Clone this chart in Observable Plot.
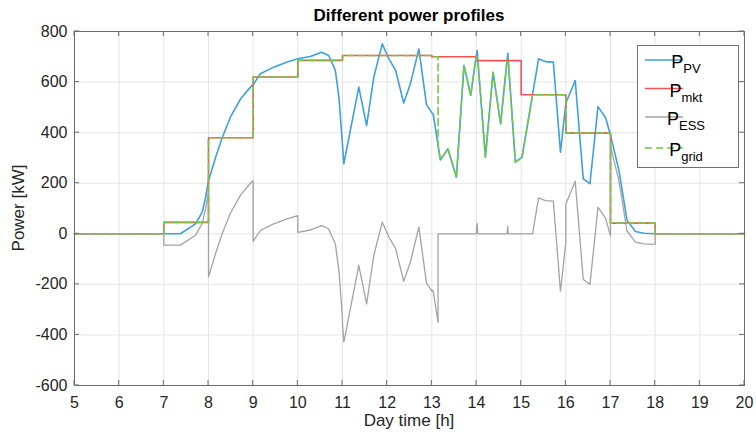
<!DOCTYPE html>
<html>
<head>
<meta charset="utf-8">
<script src="https://cdn.jsdelivr.net/npm/d3@7"></script>
<script src="https://cdn.jsdelivr.net/npm/@observablehq/plot@0.6"></script>
<style>
  html, body { margin: 0; padding: 0; background: #fff; }
</style>
</head>
<body>
<div id="chart"></div>
<script>
const xTicks = [5,6,7,8,9,10,11,12,13,14,15,16,17,18,19,20];
const yTicks = [-600,-400,-200,0,200,400,600,800];

const hours = [5,7,7,7.37,7.71,7.86,7.93,8,8,8.16,8.31,8.49,8.72,8.94,9,9,9.16,9.46,9.76,10,10,10.28,10.53,10.69,10.84,10.92,11,11,11.03,11.365,11.54,11.7,11.89,12.04,12.19,12.37,12.52,12.71,12.88,13,13,13.03,13.14,13.14,13.19,13.36,13.55,13.72,13.87,13.99,14,14,14.015,14.03,14.2,14.37,14.54,14.683,14.7,14.711,14.87,15,15,15.02,15.255,15.39,15.54,15.72,15.88,16,16,16.21,16.39,16.54,16.72,16.89,17,17,17.19,17.37,17.56,17.75,18,18,20];

const pPV = [0,0,0,0,39,86,140,210,210,303,382,461,534,580,590,590,633,659,679,692,692,701,718,705,646,540,350,350,277,580,428,619,751,692,646,517,593,731,511,478,478,474,350,350,292,336,224,666,547,700,707,707,725,685,303,639,435,685,714,685,283,300,300,303,550,692,681,679,323,516,516,606,217,198,503,459,390,390,250,53,9,2,0,0,0];

const pMkt = [0,0,45,45,45,45,45,45,380,380,380,380,380,380,380,620,620,620,620,620,686,686,686,686,686,686,686,705,705,705,705,705,705,705,705,705,705,705,705,705,700,700,700,700,700,700,700,700,700,700,700,685,685,685,685,685,685,685,685,685,685,685,550,550,550,550,550,550,550,550,398,398,398,398,398,398,398,42,42,42,42,42,42,0,0];

const pESS = [0,0,-45,-45,-6,41,95,165,-170,-77,2,81,154,200,210,-30,13,39,59,72,6,15,32,19,-40,-146,-336,-355,-428,-125,-277,-86,46,-13,-59,-188,-112,26,-194,-227,-222,-226,-350,0,0,0,0,0,0,0,7,22,40,0,0,0,0,0,29,0,0,0,0,0,0,142,131,129,-227,-34,118,208,-181,-200,105,61,-8,348,208,11,-33,-40,-42,0,0];

const pGrid = [0,0,45,45,45,45,45,45,380,380,380,380,380,380,380,620,620,620,620,620,686,686,686,686,686,686,686,705,705,705,705,705,705,705,705,705,705,705,705,705,700,700,700,350,292,336,224,666,547,700,700,685,685,685,303,639,435,685,685,685,283,300,300,303,550,550,550,550,550,550,398,398,398,398,398,398,398,42,42,42,42,42,42,0,0];

const seriesNames = ["PV","mkt","ESS","grid"];
const seriesColors = ["#3f9fdf","#f25454","#a3a3a3","#72c944"];

const rows = hours.map((t, i) => ({t, pv: pPV[i], mkt: pMkt[i], ess: pESS[i], grid: pGrid[i]}));

const frameColor = "#6b6b6b";
const chart = Plot.plot({
  width: 756,
  height: 439,
  marginLeft: 74,
  marginRight: 12,
  marginTop: 31,
  marginBottom: 54,
  style: {fontFamily: "'Liberation Sans', Arial, sans-serif", fontSize: "16px", color: "#262626", background: "#fff"},
  x: {domain: [5, 20], label: null},
  y: {domain: [-600, 800], label: null},
  marks: [
    Plot.gridX(xTicks, {stroke: "#e4e4e4", strokeOpacity: 1}),
    Plot.gridY(yTicks, {stroke: "#e4e4e4", strokeOpacity: 1}),
    Plot.line(rows, {x: "t", y: "pv", stroke: seriesColors[0], strokeWidth: 1.6}),
    Plot.line(rows, {x: "t", y: "mkt", stroke: seriesColors[1], strokeWidth: 1.6}),
    Plot.line(rows, {x: "t", y: "ess", stroke: seriesColors[2], strokeWidth: 1.3}),
    Plot.line(rows, {x: "t", y: "grid", stroke: seriesColors[3], strokeWidth: 1.6, strokeDasharray: "7,4"}),
    Plot.axisX(xTicks, {tickSize: 0, tickPadding: 11, fontSize: 16, label: null, tickFormat: d => String(d)}),
    Plot.axisY(yTicks, {tickSize: 0, tickPadding: 7, fontSize: 16, label: null, tickFormat: d => String(d)}),
    Plot.frame({stroke: frameColor, strokeWidth: 1})
  ]
});

const sx = chart.scale("x"), sy = chart.scale("y");
const svg = d3.select(chart);
const x0 = sx.apply(5), x1 = sx.apply(20), yB = sy.apply(-600), yT = sy.apply(800);
const g = svg.append("g").attr("stroke", frameColor).attr("stroke-width", 1);
xTicks.forEach(v => {
  const x = sx.apply(v);
  g.append("line").attr("x1", x).attr("x2", x).attr("y1", yB).attr("y2", yB - 5);
  g.append("line").attr("x1", x).attr("x2", x).attr("y1", yT).attr("y2", yT + 5);
});
yTicks.forEach(v => {
  const y = sy.apply(v);
  g.append("line").attr("x1", x0).attr("x2", x0 + 5).attr("y1", y).attr("y2", y);
  g.append("line").attr("x1", x1).attr("x2", x1 - 5).attr("y1", y).attr("y2", y);
});

const font = "'Liberation Sans', Arial, sans-serif";
svg.append("text").attr("x", (x0 + x1) / 2).attr("y", 21).attr("text-anchor", "middle")
  .attr("font-family", font).attr("font-size", 17).attr("font-weight", "bold").attr("fill", "#000")
  .text("Different power profiles");
svg.append("text").attr("x", (x0 + x1) / 2).attr("y", 426).attr("text-anchor", "middle")
  .attr("font-family", font).attr("font-size", 17).attr("fill", "#262626")
  .text("Day time [h]");
svg.append("text").attr("transform", `translate(24,${(yT + yB) / 2}) rotate(-90)`).attr("text-anchor", "middle")
  .attr("font-family", font).attr("font-size", 17).attr("fill", "#262626")
  .text("Power [kW]");

// legend
const lg = svg.append("g");
lg.append("rect").attr("x", 637.5).attr("y", 45.5).attr("width", 101).attr("height", 122)
  .attr("fill", "#fff").attr("stroke", "#707070").attr("stroke-width", 1);
const ly = [60, 88.5, 117, 148];
seriesNames.forEach((name, i) => {
  const line = lg.append("line").attr("x1", 645).attr("x2", 683).attr("y1", ly[i]).attr("y2", ly[i])
    .attr("stroke", seriesColors[i]).attr("stroke-width", i === 2 ? 1.3 : 1.6);
  if (i === 3) line.attr("stroke-dasharray", "7,4");
  const t = lg.append("text").attr("x", 686).attr("y", ly[i] + 8)
    .attr("font-family", font).attr("font-size", 18).attr("fill", "#000");
  t.append("tspan").text("P");
  t.append("tspan").attr("dy", 5).attr("font-size", 13).text(name);
});

document.getElementById("chart").appendChild(chart);
</script>
</body>
</html>
